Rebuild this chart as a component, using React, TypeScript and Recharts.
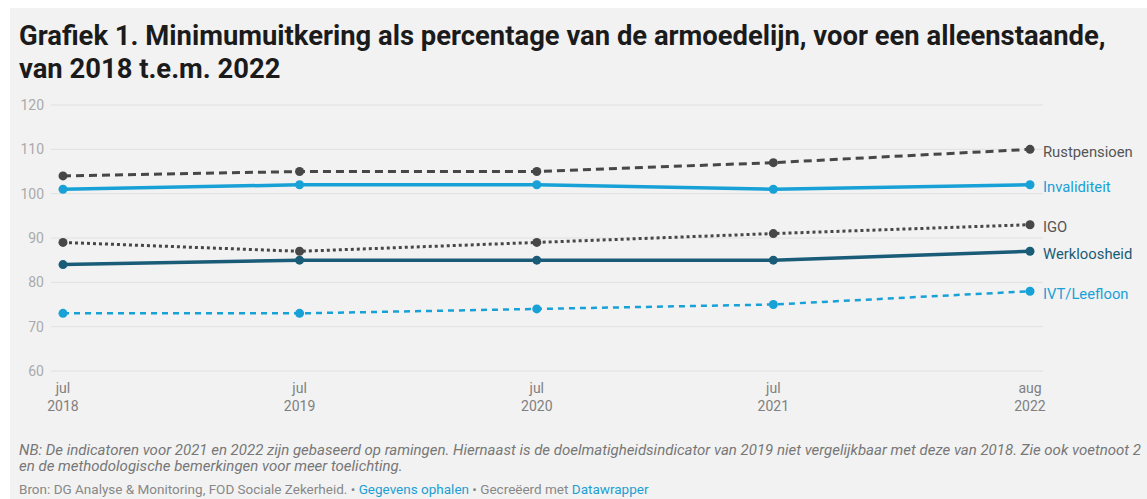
import React from 'react';
import { LineChart, Line, XAxis, YAxis, CartesianGrid } from 'recharts';

// data
const dates = ['2018-07-01', '2019-07-01', '2020-07-01', '2021-07-01', '2022-08-01'];
const monthLabels = ['jul', 'jul', 'jul', 'jul', 'aug'];
const yearLabels = ['2018', '2019', '2020', '2021', '2022'];
const rustpensioen = [104, 105, 105, 107, 110];
const invaliditeit = [101, 102, 102, 101, 102];
const igo = [89, 87, 89, 91, 93];
const werkloosheid = [84, 85, 85, 85, 87];
const ivtLeefloon = [73, 73, 74, 75, 78];
const yTicks = [60, 70, 80, 90, 100, 110, 120];

const times = dates.map(d => Date.parse(d));
const rows = times.map((t, i) => ({
  t,
  rust: rustpensioen[i],
  inval: invaliditeit[i],
  igo: igo[i],
  werk: werkloosheid[i],
  ivt: ivtLeefloon[i],
}));

const series = [
  { key: 'rust', name: 'Rustpensioen', color: '#474747', label: '#555555', width: 3, dash: '8 5' },
  { key: 'inval', name: 'Invaliditeit', color: '#18a1d6', label: '#18a1d6', width: 3.5, dash: undefined },
  { key: 'igo', name: 'IGO', color: '#474747', label: '#555555', width: 3, dash: '3 3' },
  { key: 'werk', name: 'Werkloosheid', color: '#1a5b77', label: '#1a5b77', width: 3.5, dash: undefined },
  { key: 'ivt', name: 'IVT/Leefloon', color: '#18a1d6', label: '#18a1d6', width: 2.5, dash: '6 5' },
];

const XTick = (props: any) => {
  const { x, y, payload } = props;
  const i = times.indexOf(payload.value);
  return (
    <text x={x} textAnchor="middle" fill="#808080" fontSize={14} fontFamily="Roboto">
      <tspan x={x} y={y + 14}>{monthLabels[i]}</tspan>
      <tspan x={x} y={y + 32}>{yearLabels[i]}</tspan>
    </text>
  );
};

const endLabel = (s: any) => (p: any) => {
  if (p.index !== times.length - 1) return <g key={p.index} />;
  return (
    <text key={p.index} x={p.x + 13} y={p.y + 7.5} fill={s.label} fontSize={14.8} fontFamily="Roboto">
      {s.name}
    </text>
  );
};

export default function App() {
  return (
    <div style={{ position: 'fixed', left: 0, top: 0, width: 1147, height: 499, background: '#ffffff', fontFamily: 'Roboto' }}>
      <div style={{ position: 'absolute', left: 10, top: 8, right: 0, bottom: 0, background: '#f2f2f2' }} />
      <div style={{ position: 'absolute', left: 19, top: 20, fontSize: 27.4, fontWeight: 700, lineHeight: '33px', color: '#1b1b1b', whiteSpace: 'nowrap' }}>
        Grafiek 1. Minimumuitkering als percentage van de armoedelijn, voor een alleenstaande,<br />van 2018 t.e.m. 2022
      </div>
      <div style={{ position: 'absolute', left: 0, top: 90 }}>
        <LineChart width={1147} height={330} data={rows} margin={{ top: 15, right: 104, bottom: 0, left: 0 }}>
          <CartesianGrid horizontal vertical={false} stroke="#e0e0e0" />
          <XAxis
            dataKey="t"
            type="number"
            scale="time"
            domain={[times[0], times[times.length - 1]]}
            ticks={times}
            tick={<XTick />}
            axisLine={false}
            tickLine={false}
            height={49}
            padding={{ left: 12, right: 13 }}
            interval={0}
          />
          <YAxis
            domain={[60, 120]}
            ticks={yTicks}
            axisLine={false}
            tickLine={false}
            tickSize={0}
            tickMargin={7}
            width={51}
            tick={{ fill: '#aaaaaa', fontSize: 14, fontFamily: 'Roboto' }}
          />
          {series.map(s => (
            <Line
              key={s.key}
              dataKey={s.key}
              type="linear"
              stroke={s.color}
              strokeWidth={s.width}
              strokeDasharray={s.dash}
              dot={{ r: 4.5, fill: s.color, strokeWidth: 0 }}
              activeDot={false}
              isAnimationActive={false}
              label={endLabel(s)}
            />
          ))}
        </LineChart>
      </div>
      <div style={{ position: 'absolute', left: 19, top: 442, fontSize: 15, fontStyle: 'italic', color: '#777777', lineHeight: '16px', whiteSpace: 'nowrap' }}>
        NB: De indicatoren voor 2021 en 2022 zijn gebaseerd op ramingen. Hiernaast is de doelmatigheidsindicator van 2019 niet vergelijkbaar met deze van 2018. Zie ook voetnoot 2<br />en de methodologische bemerkingen voor meer toelichting.
      </div>
      <div style={{ position: 'absolute', left: 19, top: 481, fontSize: 13.5, lineHeight: '16px', color: '#888888', whiteSpace: 'nowrap' }}>
        Bron: DG Analyse &amp; Monitoring, FOD Sociale Zekerheid. • <span style={{ color: '#1d9fd2' }}>Gegevens ophalen</span> • Gecreëerd met <span style={{ color: '#1d9fd2' }}>Datawrapper</span>
      </div>
    </div>
  );
}
